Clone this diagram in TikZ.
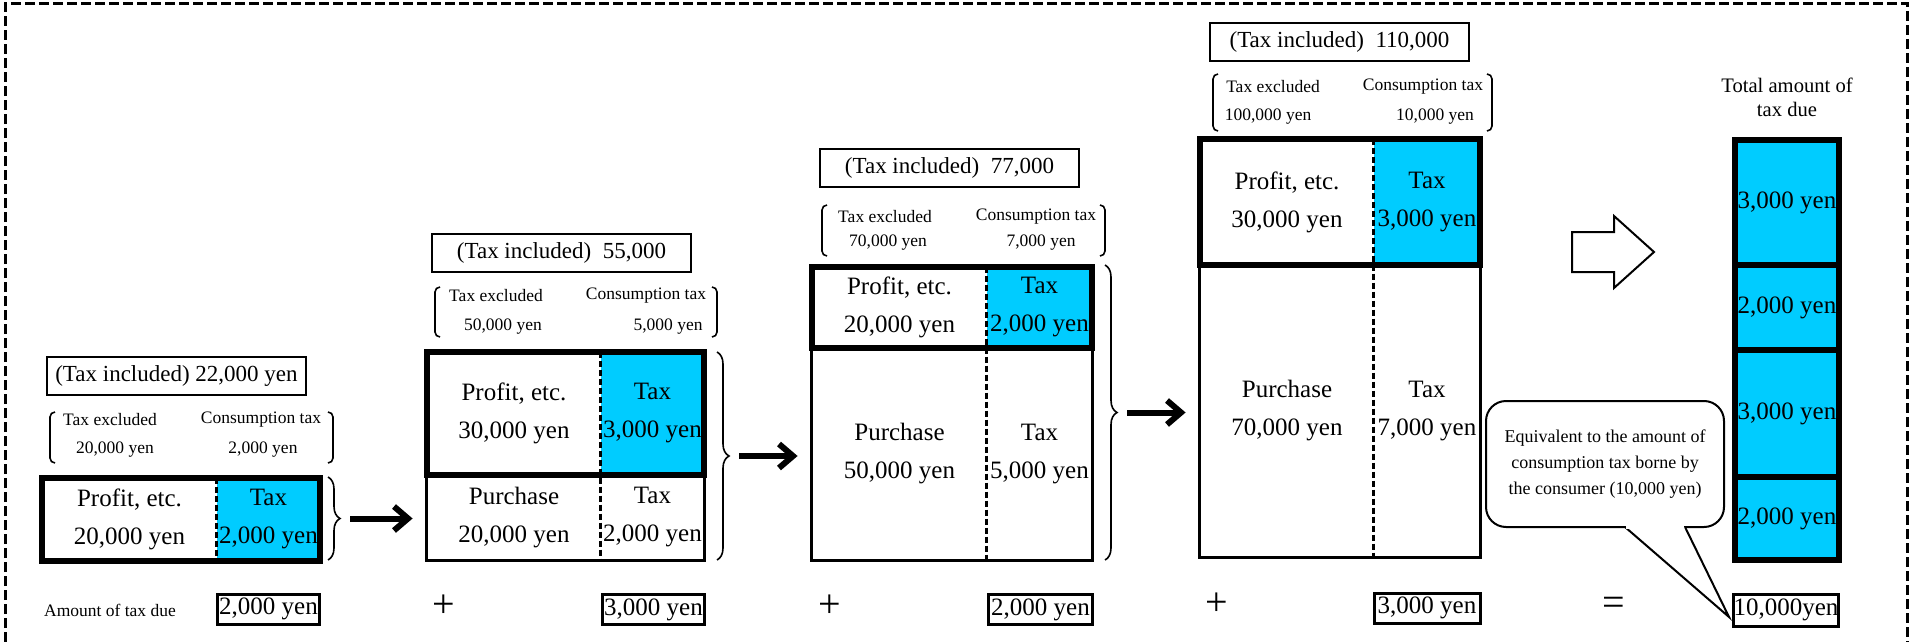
\documentclass[tikz,border=0pt]{standalone}
\usepackage{fontspec}
\setmainfont{Liberation Serif}
\usetikzlibrary{positioning,arrows.meta,decorations.pathreplacing}
\definecolor{taxblue}{RGB}{0,204,255}
\tikzset{
    cell/.style={inner sep=0pt, align=center, font=\fontsize{12.5}{19}\selectfont}, % one part of a price
    taxcell/.style={cell, fill=taxblue}, % the tax a trader pays
    bigbox/.style={draw, line width=3pt},
    thinbox/.style={draw, line width=1.5pt},
    divider/.style={line width=1.3pt, dash pattern=on 3pt off 1.5pt},
    headbox/.style={draw, line width=1pt, inner sep=0pt, minimum width=129.5pt, minimum height=19pt, font=\fontsize{11.5}{14}\selectfont},
    smalltext/.style={inner sep=0pt, font=\fontsize{8.75}{10}\selectfont},
    paren/.style={line width=0.8pt, rounded corners=2.5pt},
    grouping/.style={decorate, decoration={brace, amplitude=6pt}, line width=0.8pt},
    flow/.style={line width=3pt, -{Straight Barb[length=7pt,width=12pt]}, shorten <=5pt, shorten >=7pt},
    duebox/.style={draw, line width=1.5pt, inner sep=0pt, minimum height=15pt, font=\fontsize{12.5}{14}\selectfont},
    opsign/.style={inner sep=0pt, font=\fontsize{20}{20}\selectfont},
}

\begin{document}
\begin{tikzpicture}[x=0.5pt, y=-0.5pt]
  \useasboundingbox (0,0) rectangle (1910,642);
  % dashed frame, open at the bottom
  \draw[line width=1.8pt, dash pattern=on 5pt off 2pt] (5.5,642) |- (1907.5,3.5) -- (1907.5,642);

  % stage 1
  \node[headbox] (h1) at (176.5,376) {(Tax included) 22,000 yen};
  \draw[paren] (55,412) -- (50,412) -- (50,463) -- (55,463);
  \draw[paren] (328,412) -- (333,412) -- (333,463) -- (328,463);
  \node[smalltext] (ex1) at (110,420) {Tax excluded};
  \node[smalltext] (exv1) at (115,450) {20,000 yen};
  \node[smalltext] (ct1) at (261,420) {Consumption tax};
  \node[smalltext] (ctv1) at (263,450) {2,000 yen};
  \node[cell, minimum width=87.5pt, minimum height=41.5pt] (p1) at (129.5,519.5) {Profit, etc.\\20,000 yen};
  \node[taxcell, minimum width=51.5pt, minimum height=41.5pt] (t1) at (268.5,519.5) {Tax\\2,000 yen};
  \draw[divider] (t1.north west) -- (t1.south west);
  \draw[bigbox] (p1.north west) rectangle (t1.south east);
  \draw[grouping] (328,477) -- (328,560);
  \coordinate (b1) at (340,518.5);
  \node[smalltext] (due) at (110,610) {Amount of tax due};
  \node[duebox, minimum width=51pt] (d1) at (268.5,609) {2,000 yen};

  % stage 2
  \node[headbox] (h2) at (561.5,253) {(Tax included)\ \ 55,000};
  \draw[paren] (440,287) -- (435,287) -- (435,337) -- (440,337);
  \draw[paren] (712,287) -- (717,287) -- (717,337) -- (712,337);
  \node[smalltext] (ex2) at (496,296) {Tax excluded};
  \node[smalltext] (exv2) at (503,327) {50,000 yen};
  \node[smalltext] (ct2) at (646,296) {Consumption tax};
  \node[smalltext] (ctv2) at (668,327) {5,000 yen};
  \node[cell, minimum width=87pt, minimum height=61.5pt] (p2) at (514,413.5) {Profit, etc.\\30,000 yen};
  \node[taxcell, minimum width=51.5pt, minimum height=61.5pt] (t2) at (652.5,413.5) {Tax\\3,000 yen};
  \node[cell, minimum width=87pt, minimum height=42.5pt] (u2) at (514,517.5) {Purchase\\20,000 yen};
  \node[cell, minimum width=51.5pt, minimum height=42.5pt] (v2) at (652.5,517.5) {Tax\\2,000 yen};
  \draw[divider] (t2.north west) -- (v2.south west);
  \draw[thinbox] (u2.north west) rectangle (v2.south east);
  \draw[bigbox] (p2.north west) rectangle (t2.south east);
  \draw[grouping] (717,352) -- (717,560);
  \coordinate (b2) at (729,456);
  \draw[flow] (b1) -- (b1 -| u2.west);
  \node[opsign] (plus2) at (444,606) {+};
  \node[duebox, minimum width=51pt] (d2) at (653.5,609.5) {3,000 yen};

  % stage 3
  \node[headbox] (h3) at (949.5,167.5) {(Tax included)\ \ 77,000};
  \draw[paren] (827,205) -- (822,205) -- (822,256) -- (827,256);
  \draw[paren] (1100,205) -- (1105,205) -- (1105,256) -- (1100,256);
  \node[smalltext] (ex3) at (885,217) {Tax excluded};
  \node[smalltext] (exv3) at (888,243) {70,000 yen};
  \node[smalltext] (ct3) at (1036,217) {Consumption tax};
  \node[smalltext] (ctv3) at (1041,243) {7,000 yen};
  \node[cell, minimum width=87.5pt, minimum height=40.5pt] (p3) at (899.5,307.5) {Profit, etc.\\20,000 yen};
  \node[taxcell, minimum width=52.5pt, minimum height=40.5pt] (t3) at (1039.5,307.5) {Tax\\2,000 yen};
  \node[cell, minimum width=87.5pt, minimum height=106pt] (u3) at (899.5,454) {Purchase\\50,000 yen};
  \node[cell, minimum width=52.5pt, minimum height=106pt] (v3) at (1039.5,454) {Tax\\5,000 yen};
  \draw[divider] (t3.north west) -- (v3.south west);
  \draw[thinbox] (u3.north west) rectangle (v3.south east);
  \draw[bigbox] (p3.north west) rectangle (t3.south east);
  \draw[grouping] (1105,265) -- (1105,560);
  \coordinate (b3) at (1117,412.5);
  \draw[flow] (b2) -- (b2 -| u3.west);
  \node[opsign] (plus3) at (830,606) {+};
  \node[duebox, minimum width=52pt] (d3) at (1040.5,609.5) {2,000 yen};

  % stage 4
  \node[headbox] (h4) at (1339.5,42) {(Tax included)\ \ 110,000};
  \draw[paren] (1218,74) -- (1213,74) -- (1213,131) -- (1218,131);
  \draw[paren] (1487,74) -- (1492,74) -- (1492,131) -- (1487,131);
  \node[smalltext] (ex4) at (1273,87) {Tax excluded};
  \node[smalltext] (exv4) at (1268,117) {100,000 yen};
  \node[smalltext] (ct4) at (1423,87) {Consumption tax};
  \node[smalltext] (ctv4) at (1435,117) {10,000 yen};
  \node[cell, minimum width=87pt, minimum height=63pt] (p4) at (1287,202) {Profit, etc.\\30,000 yen};
  \node[taxcell, minimum width=53pt, minimum height=63pt] (t4) at (1427,202) {Tax\\3,000 yen};
  \node[cell, minimum width=87pt, minimum height=146pt] (u4) at (1287,411) {Purchase\\70,000 yen};
  \node[cell, minimum width=53pt, minimum height=146pt] (v4) at (1427,411) {Tax\\7,000 yen};
  \draw[divider] (t4.north west) -- (v4.south west);
  \draw[thinbox] (u4.north west) rectangle (v4.south east);
  \draw[bigbox] (p4.north west) rectangle (t4.south east);
  \draw[flow] (b3) -- (b3 -| u4.west);
  \node[opsign] (plus4) at (1217,604) {+};
  \node[duebox, minimum width=53pt] (d4) at (1427,608) {3,000 yen};

  % total
  \draw[line width=1pt] (1572,232) -- (1614,232) -- (1614,216) -- (1654,252) -- (1614,288) -- (1614,272) -- (1572,272) -- cycle;
  \node[inner sep=0pt, align=center, font=\fontsize{10.3}{12}\selectfont] (total) at (1787,97) {Total amount of\\tax due};
  \node[taxcell, minimum width=52pt, minimum height=62.5pt] (s1) at (1787,202.5) {3,000 yen};
  \node[taxcell, minimum width=52pt, minimum height=42.5pt] (s2) at (1787,307.5) {2,000 yen};
  \node[taxcell, minimum width=52pt, minimum height=63.5pt] (s3) at (1787,413.5) {3,000 yen};
  \node[taxcell, minimum width=52pt, minimum height=41.5pt] (s4) at (1787,518.5) {2,000 yen};
  \draw[bigbox] (s1.north west) rectangle (s4.south east);
  \foreach \s in {s1,s2,s3}
    \draw[bigbox] (\s.south west) -- (\s.south east);
  \node[opsign] (equal) at (1614,606) {=};
  \node[duebox, minimum width=52.5pt, minimum height=16pt] (d5) at (1786,610) {10,000yen};

  % speech bubble
  \node[draw, line width=1pt, rounded corners=10pt, minimum width=119pt, minimum height=63pt,
        align=center, font=\fontsize{9}{13}\selectfont] (call) at (1605,464)
        {Equivalent to the amount of\\consumption tax borne by\\the consumer (10,000 yen)};
  \coordinate (cb1) at (1625,527);
  \coordinate (cb2) at (1685,527);
  \coordinate (ctip) at (1729,617);
  \draw[line width=1pt, fill=white] (cb1) -- (ctip) -- (cb2);
  \draw[white, line width=2pt] ([xshift=0.6pt]cb1) -- ([xshift=-0.6pt]cb2);
\end{tikzpicture}
\end{document}
